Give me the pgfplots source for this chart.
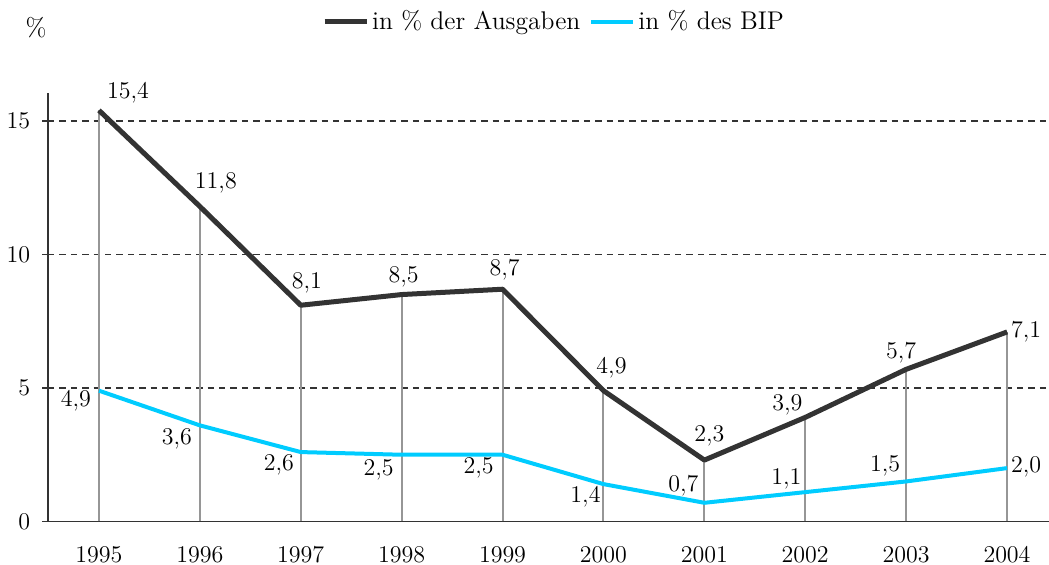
\documentclass[border=0pt]{standalone}
\usepackage{pgfplots}
\usepackage{pgfplotstable}
\pgfplotsset{compat=1.18}
\definecolor{darkline}{RGB}{51,51,51}
\definecolor{blueline}{RGB}{0,204,255}
\definecolor{stem}{RGB}{150,150,150}
\pgfplotstableread{
x dark blue ddx ddy bdx bdy
1995 15.4 4.9 14.5 8.5 -11.5 -5
1996 11.8 3.6 8 11.5 -11.5 -7
1997 8.1 2.6 3 11 -11 -6.5
1998 8.5 2.5 1 8.75 -11.5 -7.5
1999 8.7 2.5 1 9.5 -12 -6.5
2000 4.9 1.4 4 11.5 -9 -6.5
2001 2.3 0.7 2.5 12 -10.5 8.5
2002 3.9 1.1 -9 6 -9.5 6.5
2003 5.7 1.5 -2.5 8 -10.5 7.5
2004 7.1 2.0 9.5 0 9.5 0.5
}\data
\begin{document}
\fontsize{12.8}{15}\selectfont
\begin{tikzpicture}
\path[use as bounding box] (-24pt,-21.75pt) rectangle (500.5pt,260.75pt);
\begin{axis}[
  scale only axis,
  width=500.5pt, height=214.25pt,
  xmin=1994.495, xmax=2004.415,
  ymin=0, ymax=16.05,
  clip=false,
  axis lines=left,
  axis line style={-, draw=black!80, line width=0.75pt},
  xtick={1995,...,2004},
  xticklabel={\pgfmathprintnumber[1000 sep={},fixed]{\tick}},
  ytick={0,5,10,15},
  xtick style={draw=none},
  ytick style={draw=black!80, line width=0.75pt},
  tick align=outside,
  major tick length=3pt,
  ymajorgrids,
  major grid style={draw=black!80, line width=0.7pt, dash pattern=on 3.2pt off 2.5pt},
  xticklabel style={yshift=-5.5pt},
  yticklabel style={xshift=-1.5pt},
  tick label style={font=\fontsize{12.8}{15}\selectfont},
  legend style={at={(0.506,1.1657)}, anchor=center, draw=none, fill=none,
    font=\fontsize{12.8}{15}\selectfont,
    nodes={inner xsep=1.5pt},
    /tikz/every even column/.append style={column sep=3pt}},
  legend columns=2,
  legend image code/.code={\draw[#1] (0pt,0pt) -- (21pt,0pt);},
]
\addplot[ycomb, draw=stem, line width=1pt, forget plot] table[x=x, y=dark] {\data};
\addplot[draw=darkline, line width=2.5pt, line join=round,
  point meta=y,
  nodes near coords={\pgfmathprintnumber[fixed,fixed zerofill,precision=1,use comma]{\pgfplotspointmeta}},
  visualization depends on={\thisrow{ddx} \as \dx},
  visualization depends on={\thisrow{ddy} \as \dy},
  every node near coord/.append style={anchor=center, xshift=\dx, yshift=\dy, text=black, font=\fontsize{12.8}{15}\selectfont}]
  table[x=x, y=dark] {\data};
\addlegendentry{in \% der Ausgaben}
\addplot[draw=blueline, line width=2pt, line join=round,
  point meta=y,
  nodes near coords={\pgfmathprintnumber[fixed,fixed zerofill,precision=1,use comma]{\pgfplotspointmeta}},
  visualization depends on={\thisrow{bdx} \as \dx},
  visualization depends on={\thisrow{bdy} \as \dy},
  every node near coord/.append style={anchor=center, xshift=\dx, yshift=\dy, text=black, font=\fontsize{12.8}{15}\selectfont}]
  table[x=x, y=blue] {\data};
\addlegendentry{in \% des BIP}
\node at (rel axis cs:-0.012,1.152) {\%};
\end{axis}
\end{tikzpicture}
\end{document}
